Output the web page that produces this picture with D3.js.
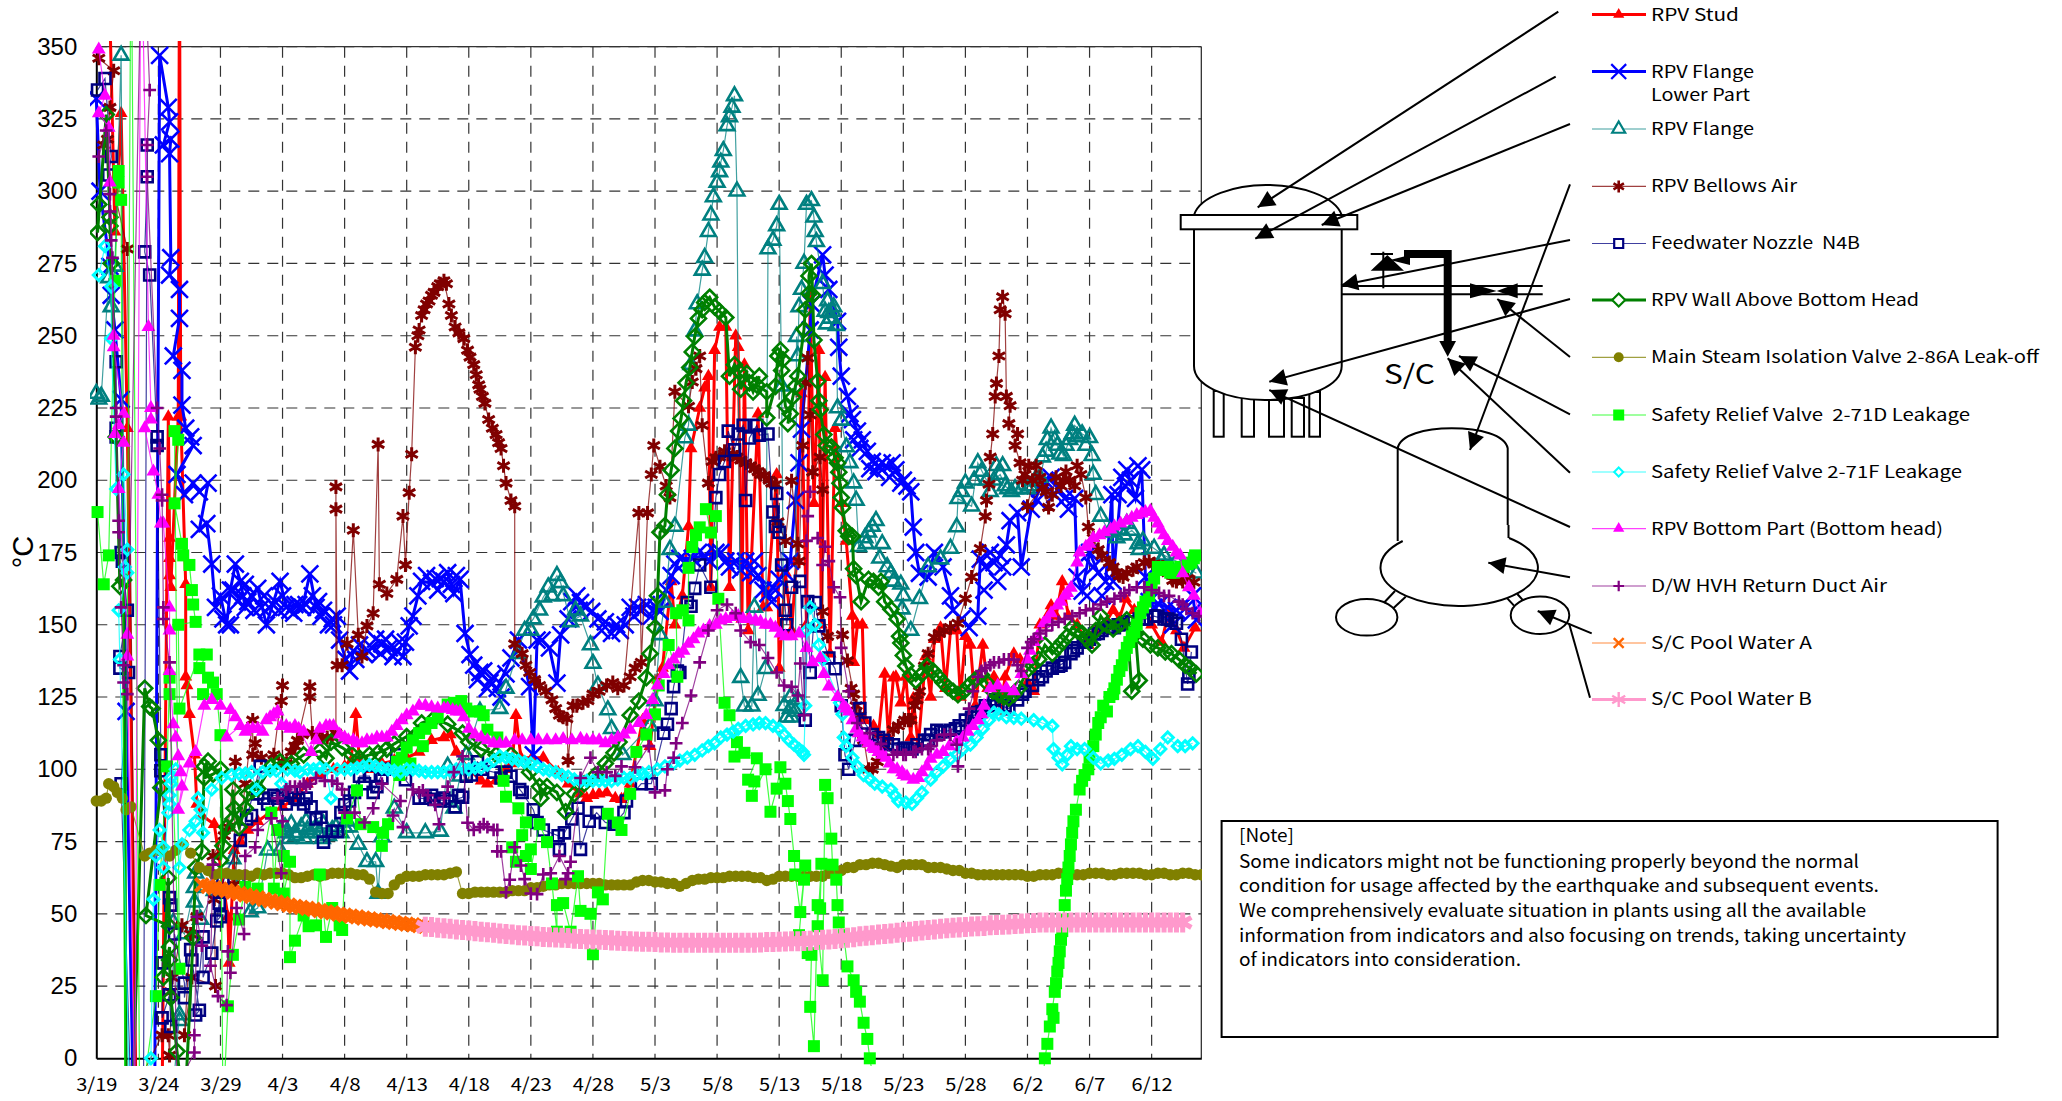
<!DOCTYPE html>
<html>
<head>
<meta charset="utf-8">
<script src="https://cdn.jsdelivr.net/npm/d3@7"></script>
<style>
  html, body { margin: 0; padding: 0; background: #fff; }
  svg { display: block; }
</style>
</head>
<body>
<div id="visualization"></div>
<script>
// days are counted from 3/19, temperatures in degC
let dayTicks = [0, 5, 10, 15, 20, 25, 30, 35, 40, 45, 50, 55, 60, 65, 70, 75, 80, 85]
let dayLabels = ['3/19', '3/24', '3/29', '4/3', '4/8', '4/13', '4/18', '4/23', '4/28', '5/3', '5/8', '5/13', '5/18', '5/23', '5/28', '6/2', '6/7', '6/12']
let tempTicks = [0, 25, 50, 75, 100, 125, 150, 175, 200, 225, 250, 275, 300, 325, 350]

let rpvStud = [[0.4,400],[1.1,360],[1.5,286],[2,327],[2.5,218],[3.2,-15],[5.3,-15],[5.8,222],[5.9,180],[5.9,173],[5.9,167],[6,163],[6.6,222],[6.7,390],[6.8,222],[7.2,164],[7.2,132],[7.3,129],[7.5,119],[7.9,105],[8.1,88],[8.5,84],[9.5,81],[10.6,49],[10.7,33],[11.1,72],[11.6,75],[12.2,79],[13,82],[14,85],[15,87],[16,90],[17,95],[18,98],[19.1,100],[20,101],[20.5,102.6],[20.9,119],[21.2,103],[22,100],[23,102],[24,103],[25,104],[26,106],[27,110],[28,111],[28.5,112],[29,106],[30,100],[31,96],[31.5,95],[32.2,96],[33,100],[33.5,102],[33.8,118.7],[34.2,104],[35.1,104],[36,104],[37.2,99],[38,95],[39,91.5],[39.5,90],[40,91],[40.5,91.5],[41.1,92],[41.8,90],[42.3,89.6],[43,95],[44,117],[44.6,108],[45.2,131],[45.6,135],[46.3,165],[46.6,150],[47.2,160],[47.7,184],[47.9,211],[48.6,225],[49,232],[49.3,236],[49.5,163],[49.8,245],[50.2,253],[50.7,253],[51,163],[51.5,250],[51.7,246],[52,152],[52.2,240],[52.5,148],[53.3,223],[53.7,156],[54,156],[54.8,202],[55,135],[55.5,168],[56,148],[56.4,172],[56.8,230],[57.2,150],[57.5,265],[57.8,192],[58.2,245],[58.4,150],[58.7,235.6],[59.1,140],[59.5,218],[60,192],[60.4,179],[60.9,153],[61,137],[61.3,150],[61.7,150],[61.9,117],[62.6,115],[63,112],[63.5,133],[63.8,111],[64.2,131.7],[64.4,132],[64.8,123],[65.2,132],[65.6,111],[65.8,124.6],[66.2,108],[66.8,139],[67.2,125],[67.5,145],[68,149],[68.4,128],[68.8,148],[69.3,148],[69.6,125],[70,146],[70.4,143],[70.8,122],[71.4,143],[71.8,128],[72.3,132],[72.8,120],[73.2,132],[73.9,140],[74.4,138],[75,130],[75.5,127],[76,150],[76.9,156.7],[77.3,153],[77.8,165],[78.3,153],[79,150],[79.9,143],[80.5,148],[81.2,150],[81.9,155],[82.4,152],[82.9,159],[83.6,155],[84.4,158],[85,150],[85.8,144],[86.4,155],[87,148],[87.6,142],[88.5,149]]

let rpvFlangeLower = [[0,332],[0.3,300],[1.1,274],[1.2,264],[1.5,252],[2,228],[2.4,120],[3,-20],[4.7,-20],[5.1,347],[5.8,329],[5.9,324],[5.4,316],[6,318],[5.9,313],[6,277],[5.9,271],[6.7,266],[6.7,256],[6.2,243],[6.9,238],[6.9,226],[7.2,218],[7.6,215],[7.8,212],[6.5,202],[7.1,195],[7.8,199],[8.3,196],[9,199],[8.3,183],[8.9,185],[9.3,171],[9.6,156],[10,160],[10.5,150],[10.8,162],[11.2,171],[11.6,165],[12,156],[12.5,160],[13,162.6],[13.7,150],[14.2,157],[14.8,165],[15.3,156],[16,157],[16.6,156],[17.2,167.6],[17.7,156],[18.3,155],[19,152],[19.4,153],[19.6,144.7],[20.4,134],[20.7,141],[21.6,139.7],[22.2,142],[23,143.4],[23.6,142],[24.2,141],[24.7,139],[25.2,149.6],[25.5,153],[26.2,165],[27,164.5],[27.7,166],[28.3,168],[28.8,160.8],[29.3,165.7],[29.7,147],[30.1,139.7],[30.9,133.5],[31.7,130],[32.3,128],[33.4,138.5],[34,144.7],[34.9,128.6],[35.2,105],[35.5,144.7],[35.9,144.7],[36.5,142],[37.1,129.8],[37.4,146.5],[38,152],[38.7,160],[39,157.7],[39.9,154.6],[41,151],[42.2,148],[43,156],[43.6,156],[44.3,157],[45.4,154.6],[45.9,162],[47,173],[48,173],[49,174],[49.9,175],[50.7,172],[51.5,172],[52.3,172],[53.3,167],[54.1,160.8],[55,165.7],[55.5,168],[55.9,172],[56.3,193],[56.6,206],[56.8,217.7],[57.5,252],[57.6,261],[58.5,278],[58.7,271],[59,266],[59.7,255],[59.8,246],[60,236],[60.5,229],[60.9,221],[61.3,217],[61.7,214],[62.1,210],[62.5,206.5],[63,205],[63.6,205],[64.4,203.6],[65,200],[65.6,196],[65.8,183.8],[66,175],[66.3,167.8],[67,166.5],[67.5,175],[68.2,170],[68.8,160],[69,155],[69.7,152],[70.3,149],[71,153],[71.2,172.7],[71.6,170],[72.3,171.5],[72.8,174],[73.3,177.6],[73.6,186],[74.2,188.8],[74.5,170],[75.3,190],[76,197],[76.9,201],[77.5,197],[78,193.7],[78.8,193.7],[79,166.5],[79.4,161.6],[80,175],[80.7,168],[81.3,165],[81.8,195],[81.9,165],[82.6,201],[83,203.6],[83.7,193.7],[84.2,203.6],[84.5,166.5],[84.8,158],[85.6,157],[86.3,156],[87,155],[88.3,160],[88.6,151.7]]
let rpvFlangeLowerDense = [[10.2,152],[10.8,150],[11.4,158],[11.8,160],[12.2,158],[12.7,155],[13.3,156],[13.9,156],[14.4,158],[14.7,155],[15,160],[15.6,155],[15.9,154],[16.3,157],[16.9,157],[17.4,160],[17.9,158],[18.1,153],[18.7,150],[19.1,150],[11,162],[12,164],[13.5,160],[20.1,138],[20.9,138],[21.2,143],[21.9,141],[22.5,145],[22.9,140],[23.3,145],[23.9,139],[24.4,144],[24.9,144],[25.9,160],[26.6,167],[27.3,166],[27.5,162],[28,165],[28.6,164],[29,167],[30.4,136],[30.7,131],[31.2,134],[31.5,128],[32,132],[32.6,125],[33,133],[38.3,158],[38.9,155],[39.4,156],[40.4,152],[40.7,148],[41.5,147],[41.9,150],[42.6,150],[43.3,153],[43.9,155],[44.7,153],[45.1,156],[46.3,167],[46.6,171],[47.5,172],[48.5,175],[49.4,172],[50.3,175],[51,170],[51.9,169],[52.7,168],[53,172],[53.7,162],[54.4,158],[54.7,162],[60.7,223],[61,214],[61.5,211],[62.3,204],[62.8,203],[63.3,206],[63.9,201],[64.1,206],[64.8,199],[65.3,198],[71.5,162],[72,175],[72.6,165],[73,170],[75.8,193],[76.4,200],[77.2,195],[78.3,190],[79.8,160],[80.3,170],[81,160],[82.3,195],[82.9,198],[83.3,200],[83.9,205],[85.2,156],[86.7,150],[87.8,156],[88.2,154]]

let rpvFlange = [[0,230],[0.2,228],[0.4,229],[1,270],[1.2,260],[1.5,274],[2,347],[2.5,-20],[6,-20],[6.7,15],[6.7,13],[6.2,47],[7.1,43],[7.9,59],[7.9,54],[8,64],[8.4,48],[9.5,58],[11,69],[11.6,60.5],[12.4,50.6],[13,52],[13.8,72],[14.8,72],[15.2,80],[16,78],[17,79],[18,78],[19,79],[20,80],[20.4,80],[21.1,74],[21.8,68],[22.5,68],[22.7,57],[23,76.6],[24,86.5],[25,78],[26.5,78],[27.7,78.5],[28.3,101],[28.8,86.5],[29.3,97.6],[29.8,105],[30.9,120],[32.5,121],[34.5,148],[35.2,152],[36,159.5],[37.1,167],[37.4,164.5],[38.2,151],[39,153],[39.8,143],[40,136.6],[40.4,129],[41.2,120.5],[41.5,114],[42.4,105],[44.6,115],[45,123.6],[45.4,146.5],[45.8,157.7],[46.2,176],[46.6,184],[47.4,214.6],[47.7,219],[47.9,240],[48.2,251.6],[48.4,261],[48.8,272.6],[49,277],[49.3,286],[49.5,291.7],[49.7,298],[50,303],[50.2,306.7],[50.3,310],[50.5,314],[50.8,322.6],[51,325.7],[51.2,329],[51.4,333],[51.6,300],[51.9,131.7],[52.2,121.8],[52.8,121.8],[53,156],[53.3,125.5],[53.9,134.8],[54.1,280],[54.5,283],[54.8,288],[55,295.4],[55.2,232.5],[55.4,122],[55.9,121],[56.3,120],[56.4,249.7],[56.5,243],[56.6,260],[56.8,266],[57,275],[57.2,295.4],[57.6,296.7],[57.8,291],[57.9,286],[58,282.5],[58.5,268],[58.7,258.4],[59,258],[59.3,258.4],[59.6,253.5],[59.7,225],[60,220.7],[60.4,211.5],[60.7,206],[61,199],[61.2,193],[61.4,177],[61.9,180],[62.5,184],[63.1,173],[64,167.8],[64.8,164],[64.9,155.4],[65.6,148],[66.3,159],[67,170],[68,172.7],[68.8,176.4],[69.3,183.8],[69.4,193.6],[70.5,191],[71,206],[71.7,200],[72.3,200],[72.8,202],[73.2,198],[73.7,196],[74.5,197],[75.2,198],[76,201],[76.5,210],[76.9,218],[77.4,212],[77.9,208.5],[78.4,214],[78.8,219],[79.4,216],[80,214.7],[80.2,208.5],[80.3,202],[80.5,195],[80.9,187.5],[81.6,182],[82.2,180],[82.8,181],[83.4,182.6],[84.3,179],[85.2,176.4],[86,174],[87,172],[88.6,167.8]]
let rpvFlangeDense = [[14.8,79],[15.3,78],[15.7,81],[16.1,77],[16.5,80],[16.9,82],[17.3,78],[17.7,80],[18.3,81],[18.7,77],[19.3,80],[19.7,78],[20.2,82],[15.5,76],[16.8,76],[18.2,76],[33,128],[34,140],[35,148],[35.7,155],[36.4,163],[36.7,160],[37.6,160],[38.6,155],[55.6,118],[56,118],[55.9,125],[56.5,124],[58.8,254],[58.9,262],[59.1,256],[59.4,260],[62,178],[62.2,182],[62.8,186],[63.3,178],[63.7,170],[64.2,165],[65,160],[69.7,196],[70,199],[70.7,200],[71.3,203],[72,196],[72.5,205],[73,205],[73.4,197],[74,197],[75,197],[75.6,200],[76.2,208],[76.6,214],[77.2,214],[77.6,209],[78.1,212],[78.6,216],[79,215],[79.7,212],[82.4,183],[83,185],[83.9,178],[84,176],[85.8,172],[86.5,170]]

let rpvBellows = [[0.2,346],[1.4,341.7],[1.1,329],[0.9,318],[0.6,316],[2.5,280],[3.2,-10],[5.3,8],[5.8,8],[5.9,1],[6.1,28],[6,23],[6.9,46],[8.1,49],[7.6,43],[7.1,8],[7.7,28],[9.6,25],[9.5,55],[9.4,70],[10.3,77],[10.6,80],[11.2,102.6],[11.1,60],[12,95],[12.6,117],[12.6,105],[12.8,109],[13.3,104],[14.3,105],[15,129],[14.9,123.6],[15,102.6],[15.7,106],[16.2,110],[17.2,128.6],[17.2,125],[17.4,112.5],[18.6,111],[19.3,112.5],[19.3,197.7],[19.3,190],[19.4,136],[19.8,136],[20.2,143.4],[20.7,182.7],[21.1,146.5],[21.4,139],[21.8,149.6],[22.3,154],[22.7,212.4],[22.8,164],[23.4,160.8],[24.2,165.7],[24.7,187.6],[24.9,170.7],[25.2,195.7],[25.4,209],[25.7,246],[26,252],[26.2,257],[26.6,261],[27,264],[27.5,267],[28,269],[28.4,261],[28.9,253],[29.6,249],[30.1,242.6],[30.6,236.5],[30.9,231.5],[31.3,226.6],[31.6,221],[32.2,215.8],[32.6,211],[32.8,205],[33,199],[33.4,193],[33.7,191],[33.7,143.4],[34.9,133.5],[36.2,127],[37.3,118.7],[37.9,117.5],[38,103],[38.4,122],[39.6,123.7],[41.1,129],[42.5,129],[43.7,188.7],[43.9,137],[44.4,188.7],[44.7,202],[44.9,212],[45.4,204.7],[45.9,198],[46.2,194],[46.6,230.6],[47.7,225.6],[48,234],[48.3,238.6],[48.6,243],[48.8,219],[49.3,199],[49.6,206.5],[49.9,207.8],[50.6,210],[51.3,209],[51.9,207],[52.7,205],[53.3,203],[53.8,201.6],[54.7,198.5],[54.9,185.6],[55.5,179],[56,199.8],[56.5,178],[56.6,172],[56.9,212],[57.1,233.7],[57.3,242.3],[57.5,222.6],[57.7,202.8],[58.3,208],[58.5,196.7],[58.5,154.6],[58.9,146],[60.1,146.5],[60.5,137.6],[61,126],[61.5,118.7],[62.2,100],[62.9,102.6],[64.2,113.7],[65.1,117],[65.6,117],[66.3,127],[66.7,135.7],[67.5,145.6],[68.3,148],[69.4,150.5],[70,159],[70.5,166.5],[71.2,176.4],[71.6,187.5],[71.7,193],[71.9,198.6],[72,208],[72.2,216],[72.4,229],[72.5,233.5],[72.7,243],[72.8,259],[73,263.5],[73.2,257.6],[73.3,229],[73.6,225.8],[73.5,219.6],[74.2,216],[74,212],[74.4,206],[74.6,200],[75.1,205],[75.7,205],[75,191],[76.2,197.4],[76.7,190.6],[77.3,201],[77.9,200],[78.4,200],[79.3,202],[79.7,194],[79.9,183.8],[80.7,176],[81.6,171.5],[82.2,168],[82.7,166.5],[83.5,169],[84.4,171.5],[85.2,171],[85.9,170],[86.7,165.3],[87.5,165],[88.4,164.7]]
let rpvBellowsDense = [[15.3,102],[16,108],[16.6,112],[17.8,112],[18.2,111],[19,111],[25.9,250],[26.4,259],[26.8,262],[27.2,265],[27.7,268],[28.2,268],[28.6,257],[29.2,251],[29.9,245],[30.4,240],[30.8,233],[31.1,229],[31.9,218],[32.4,213],[34.3,140],[34.6,136],[35.3,131],[35.7,129],[36.7,124],[37,121],[37.6,118],[38.7,122],[39.2,123],[40,126],[40.5,127],[41.6,130],[42,128],[43,132],[43.4,135],[50.2,208],[50.9,209],[51.6,208],[52.3,206],[53,204],[53.5,202],[54.2,200],[54.4,199],[60.8,128],[61.2,122],[61.8,110],[62.5,100],[63.5,108],[64.6,115],[65.4,117],[65.9,122],[66.1,124],[67,140],[67.9,147],[68.8,149],[74.8,202],[75.4,200],[76,201],[76.5,196],[77,195],[77.7,198],[78.1,203],[78.8,198],[79,205],[80.3,180],[81,174],[81.9,170],[82.4,167],[83,168],[83.8,170],[84.8,172],[85.5,170],[86.3,168],[87,165],[87.9,166]]

let feedwaterNozzle = [[0.1,335],[0.7,339],[1.2,312],[1,305.6],[1.6,241],[1.6,218],[1.6,215],[2,175],[2.1,172],[2.5,155],[1.9,139],[1.9,135],[2.6,133.5],[2,95],[2.8,-15],[3.8,-15],[4.1,316],[4.1,305],[3.9,279],[4.3,271],[4.9,215],[4.9,212],[5.2,105],[5.2,99.5],[5.9,55.6],[6,53],[5.3,33],[5.3,14],[5.9,22],[6,11],[6.3,43],[7.1,26],[7.1,21],[7.6,37.6],[7.7,34],[8.3,16.6],[8,15],[8.6,42],[8.6,28],[9.3,36.4],[9.9,53.7],[10,49],[9.7,47.5],[10.2,61],[11.6,75.4],[12.1,82.8],[13.2,101],[13,91.5],[14.3,91],[15,91],[16.3,89.6],[17.7,82.8],[18.1,83.4],[18.3,74.8],[19,78.5],[19.4,78.5],[20,87.7],[20.4,89],[21.2,97.6],[22,97.6],[22.3,92],[23.2,100],[24.2,105],[24.9,96.4],[26,90],[27.2,89.6],[28.5,89],[29.5,90.3],[29.8,97.6],[30.7,102.6],[31,100],[32,99],[33.4,97.6],[34.1,93],[34.3,92],[35.2,86],[35.5,81.6],[36,79],[37.2,77],[37.3,72.3],[37.7,78],[38.3,82.8],[38.8,86.5],[39,72.3],[39.7,82],[40.3,85],[41,81.6],[41.7,81],[42.5,85],[42.7,89],[43.9,95],[44.7,95],[45.7,112.5],[46,115.6],[46.3,121],[46.5,128.6],[46.8,134],[47,133.5],[47.6,157.7],[47.9,156.4],[48.2,162.6],[48.6,170.7],[49.5,163],[49.9,194],[50.2,202],[50.6,206.5],[50.9,217],[51.4,210.5],[51.7,216],[52.1,219],[52.3,193],[52.6,214.6],[53.2,219],[53.4,215.6],[54.1,216],[54.5,189],[54.7,184],[54.8,195.4],[55,182],[55.2,170.7],[55.5,155],[55.6,150],[56,163],[56.7,165],[57.1,117],[57.3,158],[57.5,133.5],[57.9,157.7],[58.2,149.6],[59,138.5],[59.5,134.8],[60,122],[60.3,105],[60.6,100],[61.1,110],[61.5,121],[61.9,116],[62.5,112],[63,111],[63.7,108.8],[64.2,108.5],[65.3,107.3],[66.1,108.5],[66.7,110],[67.2,112],[67.7,113.5],[68.3,113],[68.8,113.5],[69.5,115],[70,117],[70.5,118],[71,119.6],[71.6,122],[72.3,124],[72.9,122],[73.5,121],[74.2,124],[74.8,127],[75.4,129],[75.9,131],[76.5,134],[77,135],[77.5,135.7],[78,137],[78.5,140],[79,142],[79.5,144],[80,145],[80.4,146.8],[81,148],[81.5,149],[82,149],[82.7,150],[83.4,151],[84,152],[84.6,152],[85.2,153],[86,152],[86.6,151.5],[87,150.5],[87.4,145],[87.9,129.5],[88,132],[88.2,140.6]]
let feedwaterDense = [[12.5,84],[13.5,90],[13.8,88],[14.6,90],[15.3,88],[15.7,92],[16,90],[16.7,88],[16.9,90],[17.3,87],[19.7,85],[20.8,92],[21.6,95],[22.6,94],[23,97],[26.5,90],[27,91],[27.7,89],[28,90],[28.9,87],[29.2,91],[30.2,98],[32.6,97],[33,99],[63.4,110],[64.6,107],[65,107],[65.7,107],[67,110],[68,113],[69.2,114],[70.7,118],[71.3,120],[72,122],[73.2,122],[74.6,126],[76.2,132],[77.7,136],[78.7,141],[79.7,144],[80.7,147],[81.7,149],[82.3,150],[83.1,151],[84.3,152],[85.5,153],[86.3,152]]

let rpvWall = [[0.2,295.4],[0.1,285.7],[0.8,326.5],[1.1,291],[1.1,288],[1.2,275],[1.6,215],[1.9,163.3],[2.2,165.5],[2.4,-20],[2.9,-20],[3.9,128],[4.3,121.7],[4.5,121],[5,110],[5.2,93.6],[4,49.4],[5.9,45.7],[5.8,62.4],[5.4,28],[5.9,38.5],[5.9,34],[6,21],[6.5,2.4],[7.1,-20],[7.8,41.7],[8,66],[8.5,71.6],[8.7,101],[9,102.8],[8.7,97],[9.4,98.3],[10,100],[10.2,73.5],[10,68.5],[10.5,80],[11,82.8],[11,93],[11.1,86.5],[11.5,80],[12,86.5],[12.2,91.5],[12.6,92.7],[13,93.3],[14.1,101],[14.8,102.6],[15.7,102],[16.7,105],[18,106.3],[18.5,103.8],[18.9,109.4],[19.8,107.5],[20.6,105],[21.2,103.8],[22,105],[22.7,105.7],[23.4,107],[24,108.8],[25,111.3],[26.2,116],[27.2,117.5],[28.3,115.6],[29.5,112.5],[30,109.4],[31,107],[32.2,105],[33.4,105],[34.9,99],[35.7,94],[35.8,90],[36.3,94],[37.1,92],[37.8,85.3],[38.5,91.5],[39.3,95],[40.2,98],[41,102],[41.7,105.7],[42.1,109.4],[43,118.7],[43.7,123.6],[44.3,131.7],[44.6,140],[45,149],[45.2,160],[45.4,182],[45.8,184.3],[46,195],[46.3,203.5],[46.6,211],[46.9,217],[47.1,221.4],[47.3,227.5],[47.5,233.7],[47.8,239],[48,244.4],[48.2,249.7],[48.5,256],[48.8,259],[49,261.5],[49.4,263.3],[49.8,260],[50.2,258.4],[50.7,256.3],[51,236],[51.4,240],[51.8,237.5],[51.9,231.5],[52.4,237],[52.6,233.7],[52.9,230.6],[53.4,236],[53.2,233],[54,230.6],[54,221.6],[54.7,232.5],[54.9,243],[55.1,245],[55.3,241.7],[55.2,238],[55.5,225.7],[55.9,223],[55.7,219.6],[56.1,228.8],[56.3,232.5],[56.5,236],[57,252.2],[57.1,259],[57.4,264.6],[57.4,270.7],[57.6,275],[57.7,264],[57.8,248.5],[58.1,234.3],[58.2,227.5],[58.3,224.4],[58.6,215.8],[58.8,212],[59.2,211.5],[59.5,207.8],[59.7,206],[59.8,202.8],[59.9,199],[60,194],[60.1,190.5],[60.4,182.5],[60.6,180.6],[60.9,180.6],[61,169.4],[61.2,167],[61.6,158],[62.2,165.7],[62.6,165],[63,163],[63.2,165],[63.5,158],[64,155.4],[64.5,152],[64.7,146],[64.8,143.7],[65,139.4],[65.2,135.7],[65.6,132.6],[66,130.7],[66.5,133],[66.9,135.7],[67.4,134],[67.8,132],[68.2,130],[68.6,128.3],[69,127],[69.4,125.8],[69.9,127],[70.3,129],[70.8,131],[71.3,132.6],[71.7,130],[72.2,127],[72.7,125.8],[73.1,125],[73.5,124.6],[73.9,126],[74.3,128],[75,134.4],[75.4,136],[75.9,138],[76.4,143],[77,140],[77.4,142],[77.8,144],[78.2,146],[78.6,149],[79,148],[79.4,147],[79.8,145],[80.2,143],[80.5,148],[80.9,153],[81.4,150],[81.9,148.6],[82.4,150],[83,151.7],[83.4,127],[84,130.7],[83.7,146.8],[84.3,145],[84.9,143],[85.5,142],[86.1,140.6],[86.6,140],[87.2,138],[87.7,136],[88.1,135],[88.6,133]]

let msivEarly = [[0,89],[0.4,89],[0.8,90],[1,95],[1.4,94],[1.7,92],[2.1,90],[2.4,86],[2.8,87],[3.9,70],[4.3,71],[4.8,72],[5.3,72],[5.9,70],[6.4,72],[7,74],[7.6,71],[8.3,66],[9,65],[9.5,63.5]]
// twice daily from 3/29
let msivMain = [64,64,63.5,63.5,63.5,63,64,63.5,64,64,64,63.5,62.5,62.5,63,63.5,63,63.5,64,64,64,64,63.5,63.5,62,57.5,57,57,60,62,63,63,63,63.5,63.5,63.5,63.5,64,64.5,57,57,57.5,57.5,57.5,57.5,57.5,57.5,58,58,58,59,59,59.5,60,60,60.5,60.5,60.5,60.5,60.5,60.5,60.5,60,60,60,60,60,61,61.5,61.5,61,61,60.5,60.5,59.5,60.5,61.5,62,62,62.5,62.5,62.5,63,63,63,63,62.5,62.5,61.5,62,63,63,63,63,63,63,63,63,64,64.5,65,66,66,67,67,67.5,67.5,67,66.5,66,67,67,67,67,66,66,66,65.5,65,65,64,64,63.5,63.5,63.5,63.5,63.5,63.5,63.5,63.5,63,63,63.5,63.5,63.5,64,64,63.5,63.5,63.5,64,64,64,63.5,63.5,64,64,64,64,63.5,63.5,64,64,63.5,63.5,64,64,63.5,63.5,63]

let srvLeakD = [[0.1,189],[0.6,164],[1,174],[1.5,269],[1.8,307],[1.8,303],[2,297],[2.3,-10],[2.8,400],[3.5,-20],[4.8,21.5],[5.1,60],[5.7,101],[5.9,131.7],[5.9,126],[6.7,31],[6.3,217],[6.6,214],[6.3,192],[6.9,178],[7,174],[7.5,170.7],[7.7,162],[7.8,157],[8,151],[6.6,150],[6.7,121],[8.3,139.7],[8.9,139.7],[8.3,135],[9,131.7],[9.4,130],[8.6,126],[9.7,126],[10,111.8],[10.2,-20],[10.6,18],[11,35.8],[11.5,48],[12,59.3],[13,58.7],[14.1,85],[14.3,58.7],[14.6,79],[15.1,70],[15.1,57],[15.6,68],[15.6,35],[16,40.7],[16.7,49.4],[17.1,45.7],[17.7,46],[18,63.6],[18.5,42],[19,52],[19.6,46],[19.8,44.4],[20.2,83],[21,92.7],[21.3,81],[22.3,80],[23,73.5],[23.1,78],[23.5,81],[24.2,102.6],[25,107.5],[26,112.5],[27,116],[28.3,122.4],[29.4,123.6],[29.8,121],[30.9,120],[31.2,118.7],[31.5,113.7],[32.3,111],[32.8,96],[33,90.5],[34,86.5],[34.6,81.6],[34.3,77.2],[33.5,73],[33.8,68],[35,72.3],[34.6,70],[35,65.5],[35.7,81],[36.3,74.8],[36.7,60.5],[37.1,43.8],[37.1,53],[37.6,53.7],[38.2,43.8],[38.8,63],[39,51],[39.8,50],[40,36],[40.4,57.4],[40.8,55],[41.2,84.6],[42,81.6],[42.3,79],[43,91.5],[43.5,106],[44.3,112],[45,119],[45.3,129],[46.1,143],[46.8,132],[46.7,154],[47.2,155],[47.7,151.5],[47.7,169.7],[48,176.9],[48.3,181],[48.6,183.7],[49.5,181.9],[49.1,190],[49.9,187.6],[50.1,159],[50.6,123],[51,118.7],[51.6,109.4],[51.4,104.4],[52.2,105.7],[53.2,103.8],[52.5,96.4],[53,95.8],[52.8,90.8],[53.9,100],[54.3,85.3],[54.8,93.3],[55.1,100.7],[55.5,95],[55.7,89],[55.9,82.8],[56.2,70],[56.3,63.6],[56.7,50.6],[57.1,66.7],[57,61.8],[56.6,42.6],[57.3,36.4],[57.6,35.8],[57.5,17.8],[57.8,4.2],[58.1,53],[58.3,51.9],[58.4,67.3],[58.1,45.7],[58.5,27],[58.7,94.6],[58.9,90],[59.2,76],[59.3,67],[59.6,61.8],[59.7,53],[59.8,47],[60.2,42.6],[60.5,31.8],[61,27],[61.2,23],[61.5,19.6],[61.8,12.3],[62.1,6.7],[62.3,0],[62.5,-5],[76.3,-5],[76.4,0],[76.6,5],[76.8,11],[77,17],[77.2,23],[77.4,30],[77.6,37],[77.8,44],[78,53],[78.2,62],[78.4,70],[78.6,78],[78.9,86],[79.2,93],[79.6,98],[80,104],[80.3,108],[80.7,116],[81.1,122],[81.6,125],[82,128],[82.4,134],[82.8,139.4],[83.2,144],[83.6,147.4],[84.1,154],[84.5,158],[85,163],[85.5,170],[86,169],[86.5,168],[87,169],[87.6,170],[88.2,171.5],[88.5,174]]
let srvLeakDDense = [[24.4,98],[24.6,104],[25.3,102],[25.5,110],[26.3,108],[26.5,114],[27.5,118],[28.8,123],[30.4,120],[77.1,14],[77.3,26],[77.5,33],[77.7,41],[77.9,48],[78.1,58],[78.3,66],[78.5,74],[78.7,82],[79.4,96],[79.9,100],[80.5,112],[80.9,118],[81.4,120],[81.9,126],[82.2,131],[82.6,136],[83,142],[83.4,146],[83.8,150],[84.3,156],[84.8,160],[85.2,166],[85.7,169],[86.3,170],[86.8,168],[87.3,170],[87.9,171],[88.4,173]]

let srvLeakF = [[0.2,271],[0.7,281],[1.2,267],[1.2,249],[1.6,197],[2.2,202],[2.5,176],[2.3,170],[2.5,168],[1.8,155],[1.9,138],[2.7,-20],[3,-20],[4.4,0],[4.6,55],[4.8,70],[5.1,79],[5.4,73],[5.4,66],[5.8,85],[5.9,88],[5.9,91],[6,95],[6,97],[6.4,100],[6.7,66],[6.9,74],[7.5,79],[8,82],[8.2,90],[8.4,86],[8.6,78],[9.3,93],[10.1,97],[10.9,98],[11.5,98.5],[12,98.5],[12.5,99],[12.9,93],[13.4,99],[14,99.5],[14.5,99.5],[14.9,95],[15.4,100],[16,99.5],[16.4,99],[17,100],[17.5,100],[18,100.5],[18.5,100],[18.9,90],[19.4,100],[20,100],[20.5,100],[21,100.5],[21.5,101],[22,101.5],[22.5,101],[23,100.5],[23.5,100],[24,99.5],[24.5,99],[25,100],[25.5,100],[26,99.5],[26.5,99],[27,99],[27.5,99],[28,99],[28.5,99.5],[29,100],[29.5,100.5],[30,100],[30.5,100.5],[31,100.5],[31.5,101.5],[32,103],[32.5,104.5],[33,104],[33.5,103.5],[34,103],[34.5,102.5],[35,102],[35.5,101],[36,100],[36.5,99.5],[37,99],[37.5,98],[38,97.5],[38.5,96.5],[39,96],[39.5,96],[40,96],[40.5,96],[41,96],[41.5,96],[42,96.5],[42.5,97],[43,97],[43.5,98],[44,98.5],[44.5,99],[45.2,100],[45.8,101],[46.5,102],[47,103],[47.6,104],[48.2,105],[48.8,106.5],[49.3,108],[49.8,109],[50.3,111],[50.8,112],[51.3,113],[51.7,114],[52.3,115],[52.9,115.5],[53.4,116],[53.9,116],[54.5,115],[55,114],[55.4,112],[55.8,110],[56.2,108.5],[56.6,107],[56.9,106],[57,105],[57.1,122],[57.2,148],[57.5,156],[57.9,150],[58.2,143],[58.5,138],[59.9,123],[60.1,119],[60.2,111],[60.4,108],[60.9,104],[61.3,101],[61.8,98],[62.3,96.5],[62.7,95],[63.3,94],[64,93],[64.3,91],[64.6,89],[65.2,88.5],[65.7,88],[66.1,90],[66.5,92],[67.2,96.4],[67.7,99],[68.2,101],[68.8,103.6],[69.3,105],[69.8,107],[70.4,108.5],[70.9,111],[71.4,114],[71.9,117],[72.3,119.6],[72.7,119],[73.3,118],[73.9,117.8],[74.5,117.5],[75.5,117],[76.2,116],[77,115],[77.1,107],[77.5,104],[77.8,101.7],[78.2,105],[78.5,108],[79,107],[79.6,107],[80.3,104],[80.9,102],[81.5,103],[82,103.6],[82.6,105],[83.3,107],[83.9,108],[84.5,106],[85.1,103.6],[85.7,107],[86.3,111],[87.1,108],[87.7,108],[88.3,109]]

let rpvBottom = [[0.2,349],[0.7,333],[0.2,327],[1,322],[1.1,303],[1.4,250],[1.4,246],[2.2,223],[1.8,219],[1.5,216],[2.2,213],[1.8,197],[2.5,146.5],[2.5,139],[3.1,-20],[3.6,400],[4.2,253],[4.4,225],[4.4,221],[3.9,218],[4.6,203],[5,195],[5.2,185],[5.4,185],[5.9,156],[5.9,148],[5.9,134],[6.2,115.6],[6.4,111],[6.6,104.5],[6.8,99],[6.9,94],[6.6,86],[7.5,102],[8,106],[8.7,122],[9.3,124],[10,122],[10.8,120.5],[10.5,111],[11.6,115],[12.2,114],[13,114],[13.7,117],[14.3,119],[14.9,115],[15.6,114],[16.3,114],[17.3,106],[18,114],[18.5,115],[19.1,115],[19.6,112],[20.3,110],[21,109],[21.8,110],[22.6,111],[23.4,111],[24.2,115],[25,118.7],[25.5,120],[26,122],[27,121.5],[28,121],[28.7,120.5],[29.3,120],[30,114],[31,111],[32.5,108.8],[33.7,110],[35,110],[36.3,110],[37.6,110.5],[39,110.6],[40,110],[41,109],[42,111],[43,113.7],[43.7,116],[44.3,118.7],[44.8,124],[45.2,129],[45.7,133],[46.1,136],[46.9,140],[47.7,143.4],[48.5,147],[49.4,149.6],[50.3,151.5],[51.2,152.7],[52.1,152],[53.1,151.5],[53.9,150],[54.7,149],[55.5,146],[56,146],[56.6,147],[57.2,142],[57.7,137],[58.3,138.5],[58.6,133],[59,128.6],[59.7,125],[60.4,121],[60.9,117],[61.4,112.5],[62,110],[62.5,107.5],[63,106],[63.6,104],[64.2,100],[64.9,99],[65.3,97.5],[65.8,96.4],[66.5,99],[67.2,103.6],[68.2,106],[69.3,109.8],[70.2,113],[71,117],[71.5,122],[72,128],[72.6,129],[73.3,128],[73.9,127],[74.5,133],[75.2,141],[75.8,146],[76.3,150.5],[76.9,154],[77.4,156.7],[78,160],[78.5,162.8],[79,171.5],[79.2,175],[79.7,177],[80.3,180],[81.2,182],[82.5,185],[83.4,187],[84.2,188.5],[84.9,189.4],[85.5,185],[86,181],[86.7,177],[87.3,174],[87.5,167.8],[88,163],[88.4,160],[88.9,154]]
let rpvBottomDense = [[11.2,118],[12,113],[12.6,114],[13.4,113],[14,118],[14.6,120],[15.3,115],[16,115],[16.7,113],[17.7,110],[18.8,115],[20,111],[20.7,110],[21.4,109],[22.2,110],[23,111],[23.8,113],[24.6,117],[26.5,122],[27.5,121],[28.3,121],[29,120],[29.6,118],[30.5,112],[31.5,110],[32,109],[33,109],[34.3,110],[35.6,110],[37,110],[38.3,110],[39.5,110],[40.5,110],[41.5,110],[42.5,112],[46.5,138],[47.3,141],[48.1,145],[48.9,148],[49.9,150],[50.7,152],[51.7,153],[52.6,152],[53.5,151],[54.3,150],[55.1,147],[60.2,122],[60.6,120],[61.2,114],[61.7,111],[62.2,109],[62.7,107],[63.3,105],[63.9,102],[64.5,100],[65,98],[66.2,97],[66.9,101],[67.7,105],[68.7,108],[69.8,111],[70.6,115],[71.3,119],[75,138],[75.5,144],[76.6,152],[77.7,158],[78.2,161],[80,178],[80.8,181],[81.7,183],[82,184],[83,186],[83.8,188],[84.5,189],[85.2,187],[85.7,183],[86.3,179],[87,175]]

let dwReturnDuct = [[0.2,312],[0.8,321],[1.1,299],[1.1,293],[1.2,283],[1.3,277],[1.6,225],[1.6,222],[1.8,186],[1.8,182],[2,156],[2.2,136],[2.2,130],[2.5,126],[3.7,400],[4.3,335],[4.1,316],[4.1,305],[4.9,225],[5.1,211],[5.3,193],[5.3,195],[5.4,156],[5.4,152],[5.9,137],[6.5,-10],[7.9,2],[7.9,8],[8.1,49],[8.5,39],[9.4,67],[9.2,32],[9.8,21.5],[10.5,18.4],[10.6,37],[10.8,29.6],[11.3,52],[11.9,43],[12,70],[12.8,73],[13,79],[14.1,83],[14.9,64],[15,82],[14.6,90],[15.6,94],[16.4,94],[16.9,94],[17.7,97],[19,96],[19.8,93],[20,85],[20.8,85],[21.6,81.6],[22.3,86.5],[23,95],[24.5,89],[23.9,84],[24.7,80],[25.5,93],[26.3,92.7],[27.3,87.7],[27.6,81],[28.3,94],[28.8,99],[29.5,104.5],[29.9,81.5],[30.4,79],[31.5,80],[32.3,79],[32.3,71.6],[32.6,71.6],[33,57.4],[33.3,61.8],[33.7,73],[34.2,66.7],[34.5,62],[35,57],[35.5,56.8],[36,63.6],[36.6,64],[37.3,70],[38,64],[37.8,62],[38.2,68],[39,97],[39.8,104],[40.4,99],[41.1,99],[41.8,97.7],[42.3,101],[43.4,100.7],[44.5,108],[45,92],[45.8,92.7],[46,100],[46.5,104],[46.7,109],[47.2,116],[47.9,125.5],[48.6,137],[49.3,148],[50,155],[50.8,157],[51.5,154],[51.9,148],[52.7,144],[53.4,143],[54.1,138.5],[54.8,133.5],[55.4,129],[56,128.5],[56.5,125.5],[56.7,136.6],[57,118.7],[57.3,187.6],[57.5,196],[57.2,179],[58.1,180],[58.7,177],[58.5,170.7],[59,172],[59.4,163],[59.9,159.5],[60,142],[60.6,127],[61.3,116],[62.3,112.5],[63.2,108.8],[64.2,105],[64.5,106],[65.2,105],[65.8,106],[66.5,107],[67.2,108],[67.7,110],[68.3,112],[69.3,108.5],[69.4,101],[70.3,121],[71,132],[71.6,135],[72.3,137],[73.1,138],[73.9,138],[74.5,134],[75,142],[75.5,145],[76,147],[77,150],[78,152],[79.2,154],[80.3,155.5],[81.4,158],[82.5,160],[83.2,162],[83.8,163],[85,162],[86.4,160],[87.2,158],[87.8,155.5],[88.8,153]]
let dwReturnDuctDense = [[15.3,93],[16,94],[16.7,95],[17.2,95],[18.4,96],[19.4,95],[26,92],[26.7,91],[28,90],[30.9,80],[31.2,81],[32,79],[65,105],[66,106],[67,107],[68.8,112],[70.6,127],[71.3,134],[72,136],[72.7,137],[73.5,138],[74.2,136],[75.3,144],[76.5,148],[77.5,151],[78.6,153],[79.7,155],[80.9,157],[82,159],[82.8,161],[84.4,163],[85.6,161],[86,160],[87.5,157],[88.3,154]]

// twice daily from 3/27
let poolWaterA = [60,59.5,59,58.5,58,57.5,57,56.5,56,55.5,55,54.5,54,53.5,53,52.6,52.2,51.9,51.5,51.1,50.7,50.3,49.9,49.5,49.2,48.9,48.5,48.2,47.9,47.6,47.3,47,46.7,46.4,46.2,45.9,45.6]
// twice daily from 4/14
let poolWaterB = [45.5,45.4,45.2,45,44.8,44.6,44.4,44.2,44,43.8,43.6,43.4,43.2,43,42.8,42.6,42.5,42.3,42.2,42,41.9,41.8,41.7,41.6,41.4,41.3,41.2,41.1,41,40.9,40.8,40.7,40.6,40.5,40.4,40.3,40.3,40.2,40.1,40.1,40,40,40,40,40,40,40,40,40,40,40,40,40,40,40.1,40.2,40.2,40.3,40.4,40.5,40.5,40.6,40.7,40.9,41,41.1,41.3,41.5,41.7,41.9,42.2,42.4,42.6,42.8,43,43.2,43.4,43.6,43.8,44,44.2,44.4,44.6,44.8,45,45.2,45.3,45.4,45.6,45.7,45.8,46,46.1,46.2,46.3,46.5,46.6,46.7,46.8,47,47,47,47,47,47,47,47,47,47,47,47,47,47,47,47,47,47,47,47,47,47,47,47]

let seriesNames = ['RPV Stud', 'RPV Flange', 'RPV Flange', 'RPV Bellows Air', 'Feedwater Nozzle  N4B', 'RPV Wall Above Bottom Head', 'Main Steam Isolation Valve 2-86A Leak-off', 'Safety Relief Valve  2-71D Leakage', 'Safety Relief Valve 2-71F Leakage', 'RPV Bottom Part (Bottom head)', 'D/W HVH Return Duct Air', 'S/C Pool Water A', 'S/C Pool Water B']

let noteLines = ['[Note]',
  'Some indicators might not be functioning properly beyond the normal',
  'condition for usage affected by the earthquake and subsequent events.',
  'We comprehensively evaluate situation in plants using all the available',
  'information from indicators and also focusing on trends, taking uncertainty',
  'of indicators into consideration.']

let fromDay = (start, values) => values.map((v, i) => [start + i * 0.5, v])

let width = 2062
let height = 1101
let x = d3.scaleLinear().domain([0, 89]).range([96.3, 1201.3])
let y = d3.scaleLinear().domain([0, 350]).range([1058.3, 46.7])

let svg = d3.select('#visualization')
  .append('svg')
    .attr('width', width)
    .attr('height', height)
    .style('font-family', '"Liberation Sans", Arial, sans-serif')

svg.append('defs').append('clipPath').attr('id', 'plot-clip')
  .append('rect')
    .attr('x', 90).attr('y', 41)
    .attr('width', 1112).attr('height', 1025)

// grid
svg.append('g').selectAll('line')
  .data(tempTicks.slice(1))
  .enter().append('line')
    .attr('x1', x(0)).attr('x2', x(89))
    .attr('y1', d => y(d)).attr('y2', d => y(d))
    .attr('stroke', '#333').attr('stroke-width', 1.2)
    .attr('stroke-dasharray', '11,8')

svg.append('g').selectAll('line')
  .data(dayTicks.slice(1))
  .enter().append('line')
    .attr('x1', d => x(d)).attr('x2', d => x(d))
    .attr('y1', y(350)).attr('y2', y(0))
    .attr('stroke', '#333').attr('stroke-width', 1.2)
    .attr('stroke-dasharray', '11,8')

// frame
svg.append('line').attr('x1', x(89)).attr('x2', x(89)).attr('y1', y(350)).attr('y2', y(0))
  .attr('stroke', '#222').attr('stroke-width', 1.2)
svg.append('line').attr('x1', x(0)).attr('x2', x(89)).attr('y1', y(350)).attr('y2', y(350))
  .attr('stroke', '#333').attr('stroke-width', 1.2)

// axes
let yAxis = svg.append('g')
  .attr('transform', `translate(${x(0)},0)`)
  .call(d3.axisLeft(y).tickValues(tempTicks).tickSize(0).tickPadding(19))
yAxis.select('.domain').attr('stroke', '#000').attr('stroke-width', 2)
yAxis.selectAll('text')
  .attr('fill', '#000')
  .style('font-family', '"Liberation Sans", Arial, sans-serif')
  .style('font-size', '24px')

let xAxis = svg.append('g')
  .attr('transform', `translate(0,${y(0)})`)
  .call(d3.axisBottom(x).tickValues(dayTicks).tickSize(0).tickPadding(20)
    .tickFormat((d, i) => dayLabels[i]))
xAxis.select('.domain').attr('stroke', '#000').attr('stroke-width', 2)
xAxis.selectAll('text')
  .attr('fill', '#000')
  .attr('textLength', (d, i) => dayLabels[i].length * 10.3)
  .attr('lengthAdjust', 'spacingAndGlyphs')
  .style('font-family', '"Noto Sans CJK JP", sans-serif')
  .style('font-size', '18px')

svg.append('text')
  .attr('transform', 'translate(33,552) rotate(-90)')
  .attr('text-anchor', 'middle')
  .style('font-size', '29px')
  .text('\u00b0C')

// marker helper: r is half the marker's extent in pixels
let marker = (type, factor, r) => d3.symbol().type(type).size((r / factor) * (r / factor))()
let tri = r => marker(d3.symbolTriangle2, 0.6824, r)
let times = r => marker(d3.symbolTimes, 0.6189, r)
let star = r => marker(d3.symbolAsterisk, 0.59436, r)
let box = r => marker(d3.symbolSquare2, 0.4431, r)
let rhomb = r => marker(d3.symbolDiamond2, 0.62625, r)
let dot = r => marker(d3.symbolCircle, 0.5642, r)
let block = r => marker(d3.symbolSquare, 0.5, r)
let plus = r => marker(d3.symbolPlus, 0.87559, r)

let styles = [
  { data: rpvStud, color: '#ff0000', lw: 3, path: tri(7.5), key: tri(6.5), fill: true, sw: 0, keySw: 0 },
  { data: rpvFlangeLower, dense: rpvFlangeLowerDense, color: '#0000ff', lw: 3, path: times(8.5), key: times(7.5), fill: false, sw: 2.6, keySw: 2.2 },
  { data: rpvFlange, dense: rpvFlangeDense, color: '#008080', lw: 1.2, path: tri(8.5), key: tri(7.5), fill: false, sw: 2.6, keySw: 2.2 },
  { data: rpvBellows, dense: rpvBellowsDense, color: '#800000', lw: 1.2, path: star(7), key: star(6), fill: false, sw: 3, keySw: 2.6 },
  { data: feedwaterNozzle, dense: feedwaterDense, color: '#000080', lw: 1.2, path: box(5.5), key: box(4.5), fill: false, sw: 2.6, keySw: 2.2 },
  { data: rpvWall, color: '#008000', lw: 3, path: rhomb(7.5), key: rhomb(6.5), fill: false, sw: 2.6, keySw: 2.2 },
  { data: msivEarly.concat(fromDay(10, msivMain)), color: '#808000', lw: 1.2, path: dot(5.7), key: dot(5), fill: true, sw: 0, keySw: 0 },
  { data: srvLeakD, dense: srvLeakDDense, color: '#00ff00', lw: 1.2, path: block(6), key: block(5.5), fill: true, sw: 0, keySw: 0 },
  { data: srvLeakF, color: '#00ffff', lw: 1.2, path: rhomb(5.5), key: rhomb(4.5), fill: false, sw: 3, keySw: 2 },
  { data: rpvBottom, dense: rpvBottomDense, color: '#ff00ff', lw: 1.2, path: tri(8), key: tri(6.5), fill: true, sw: 0, keySw: 0 },
  { data: dwReturnDuct, dense: dwReturnDuctDense, color: '#800080', lw: 1.2, path: plus(6.5), key: plus(5.5), fill: false, sw: 2.6, keySw: 2.2 },
  { data: fromDay(8.5, poolWaterA), color: '#ff6600', lw: 1.2, path: times(6.5), key: times(5), fill: false, sw: 4, keySw: 2.4 },
  { data: fromDay(26.5, poolWaterB), color: '#ff99cc', lw: 3, path: star(10), key: star(7.5), fill: false, sw: 5, keySw: 2.4 }
]

let lineGen = d3.line().x(d => x(d[0])).y(d => y(d[1]))

let plot = svg.append('g').attr('clip-path', 'url(#plot-clip)')

styles.forEach(s => {
  let group = plot.append('g')
  group.append('path')
    .datum(s.data)
    .attr('d', lineGen)
    .attr('fill', 'none')
    .attr('stroke', s.color)
    .attr('stroke-width', s.lw)
    .attr('stroke-opacity', s.lw < 2 ? 0.75 : 1)
  let marks = s.dense ? s.data.concat(s.dense) : s.data
  group.selectAll('path.mark')
    .data(marks.filter(d => d[1] >= -5 && d[1] <= 352))
    .enter().append('path')
      .attr('class', 'mark')
      .attr('d', s.path)
      .attr('transform', d => `translate(${x(d[0])},${y(d[1])})`)
      .attr('fill', s.fill ? s.color : 'none')
      .attr('stroke', s.fill ? 'none' : s.color)
      .attr('stroke-width', s.sw)
})

// legend
let legendY = [14.6, 71.6, 129, 186.4, 243.5, 300, 357.3, 415, 472, 528.6, 586, 643, 699.5]
let legendLengths = [88, 103, 103, 146, 209, 268, 388, 319, 311, 292, 236, 161, 161]
let legend = svg.append('g')

styles.forEach((s, i) => {
  let row = legend.append('g').attr('transform', `translate(0,${legendY[i]})`)
  row.append('line')
    .attr('x1', 1592).attr('x2', 1646)
    .attr('stroke', s.color).attr('stroke-width', s.lw)
    .attr('stroke-opacity', s.lw < 2 ? 0.75 : 1)
  row.append('path')
    .attr('d', s.key)
    .attr('transform', 'translate(1618.7,0)')
    .attr('fill', s.fill ? s.color : '#fff')
    .attr('stroke', s.fill ? 'none' : s.color)
    .attr('stroke-width', s.keySw)
  row.append('text')
    .attr('x', 1651).attr('dy', '0.35em')
    .attr('textLength', legendLengths[i])
    .attr('lengthAdjust', 'spacingAndGlyphs')
    .style('font-family', '"Noto Sans CJK JP", sans-serif')
    .style('font-size', '17px')
    .style('white-space', 'pre')
    .text(seriesNames[i])
})
legend.append('text')
  .attr('x', 1651).attr('y', 95.3).attr('dy', '0.35em')
  .attr('textLength', 99)
  .attr('lengthAdjust', 'spacingAndGlyphs')
  .style('font-family', '"Noto Sans CJK JP", sans-serif')
  .style('font-size', '17px')
  .text('Lower Part')

// vessel schematic
let schematic = svg.append('g')
  .attr('fill', 'none').attr('stroke', '#000').attr('stroke-width', 2)

let skirts = [[1213.7, 1223.7, 391], [1241.7, 1254, 397], [1269, 1284, 400], [1291.7, 1304, 398], [1309.3, 1320, 392]]
skirts.forEach(d => {
  schematic.append('rect').attr('x', d[0]).attr('y', d[2])
    .attr('width', d[1] - d[0]).attr('height', 436.7 - d[2])
})

schematic.append('path').attr('fill', '#fff')
  .attr('d', 'M1194,215 C1200,196 1235,185 1266,185 C1300,185 1335,196 1341.7,215')
schematic.append('path').attr('fill', '#fff')
  .attr('d', 'M1194,229 L1194,366 C1194,385 1225,400 1265,400 C1310,400 1341.7,385 1341.7,366 L1341.7,229')
schematic.append('rect').attr('fill', '#fff')
  .attr('x', 1180.7).attr('y', 215).attr('width', 176.6).attr('height', 14.3)

// pipes and relief valve
let plain = [[1341.7, 286, 1542.7, 286], [1341.7, 294.3, 1542.7, 294.3], [1383.3, 251.7, 1383.3, 288.3], [1370.7, 254, 1393, 254]]
plain.forEach(d => {
  schematic.append('line').attr('x1', d[0]).attr('y1', d[1]).attr('x2', d[2]).attr('y2', d[3])
})
schematic.append('path')
  .attr('d', 'M1404,254 L1447.7,254 L1447.7,343')
  .attr('stroke-width', 8)

let solids = ['1470,283.3 1470,298.3 1496.7,291', '1517.7,283.3 1517.7,298.3 1496.7,291',
  '1370.7,270.7 1404,270.7 1387.3,255', '1410,265 1410,255 1390,260', '1439.3,341 1456,341 1447.7,356.7']
solids.forEach(d => {
  schematic.append('polygon').attr('points', d).attr('fill', '#000').attr('stroke', 'none')
})

// suppression chamber
schematic.append('path').attr('d', 'M1397.7,541 L1397.7,448.3 C1400,435 1425,428.3 1451.7,428.3 C1480,428.3 1505,435 1507.7,448.3 L1507.7,525')
schematic.append('path').attr('d', 'M1508.5,538 L1508.5,525')
schematic.append('path').attr('d', 'M1402.7,541 A78.7,38.3 0 1 0 1509,538')
schematic.append('ellipse').attr('cx', 1366.7).attr('cy', 617.3).attr('rx', 30.7).attr('ry', 18.3)
schematic.append('ellipse').attr('cx', 1540).attr('cy', 615.3).attr('rx', 29.3).attr('ry', 18.7)
let braces = [[1384, 602.7, 1395, 591], [1393.3, 608.3, 1405.7, 596.7], [1507.3, 598.3, 1514, 605.7], [1517.3, 594, 1523.3, 600.7], [1590, 697.7, 1569, 623.3]]
braces.forEach(d => {
  schematic.append('line').attr('x1', d[0]).attr('y1', d[1]).attr('x2', d[2]).attr('y2', d[3])
})

// leader arrows from the legend into the schematic
let arrows = [
  [1558.3, 11.7, 1257.7, 207.3], [1555.7, 76.7, 1255.3, 238.7], [1570, 124, 1321.7, 225],
  [1570, 184.3, 1470, 450], [1570, 240, 1341, 285.3], [1570, 299, 1269.3, 381.7],
  [1570, 357, 1497.3, 299], [1570, 414.3, 1459, 356], [1570, 472.7, 1447.7, 358.3],
  [1570, 527, 1269.3, 390], [1570, 577.3, 1488.3, 562.7], [1591.7, 633.3, 1537.7, 611]
]
arrows.forEach(d => {
  let angle = Math.atan2(d[3] - d[1], d[2] - d[0])
  schematic.append('line').attr('x1', d[0]).attr('y1', d[1]).attr('x2', d[2]).attr('y2', d[3])
  schematic.append('path')
    .attr('d', 'M0,0 L-17,-8.5 L-17,8.5 Z')
    .attr('transform', `translate(${d[2]},${d[3]}) rotate(${angle * 180 / Math.PI})`)
    .attr('fill', '#000').attr('stroke', 'none')
})

svg.append('text')
  .attr('x', 1384).attr('y', 384)
  .attr('textLength', 51)
  .attr('lengthAdjust', 'spacingAndGlyphs')
  .style('font-family', '"Noto Sans CJK JP", sans-serif')
  .style('font-size', '27px')
  .text('S/C')

// note box
svg.append('rect')
  .attr('x', 1221.6).attr('y', 821).attr('width', 776).attr('height', 216)
  .attr('fill', 'none').attr('stroke', '#000').attr('stroke-width', 2)

let noteY = [836, 861.7, 886, 910.7, 936, 960]
let noteLengths = [55, 620, 640, 627, 667, 282]
svg.append('g').selectAll('text')
  .data(noteLines)
  .enter().append('text')
    .attr('x', 1239)
    .attr('y', (d, i) => noteY[i])
    .attr('dy', '0.35em')
    .attr('textLength', (d, i) => noteLengths[i])
    .attr('lengthAdjust', 'spacingAndGlyphs')
    .style('font-family', '"Noto Sans CJK JP", sans-serif')
    .style('font-size', '18px')
    .text(d => d)
</script>
</body>
</html>
